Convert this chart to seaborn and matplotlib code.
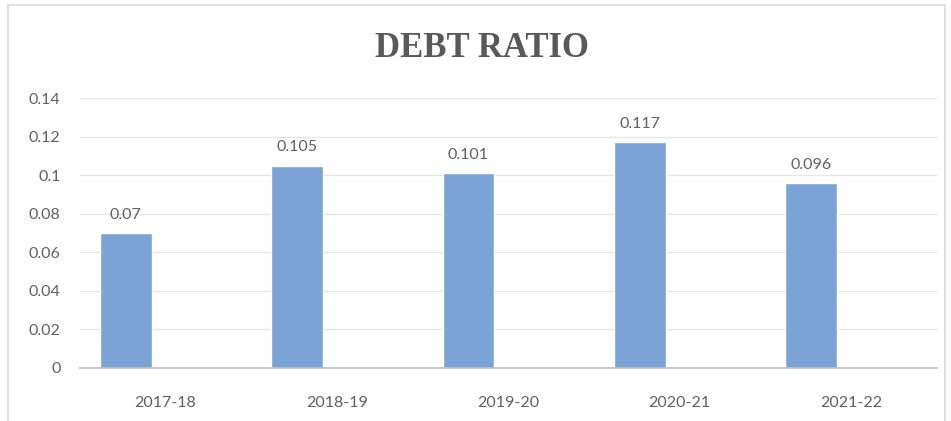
import matplotlib
matplotlib.use("Agg")
import matplotlib.pyplot as plt
import seaborn as sns
import pandas as pd
from matplotlib.patches import Rectangle

years = ["2017-18", "2018-19", "2019-20", "2020-21", "2021-22"]
debt_ratio = [0.07, 0.105, 0.101, 0.117, 0.096]
yticks = [0, 0.02, 0.04, 0.06, 0.08, 0.1, 0.12, 0.14]
ytick_labels = ["0", "0.02", "0.04", "0.06", "0.08", "0.1", "0.12", "0.14"]

df = pd.DataFrame({
    "Year": years * 2,
    "Value": debt_ratio + [float("nan")] * len(years),
    "Series": ["Debt Ratio"] * len(years) + ["_blank"] * len(years),
})

sns.set_style("white")
plt.rcParams["font.family"] = ["Lato", "DejaVu Sans"]

fig = plt.figure(figsize=(9.51, 4.21), dpi=100)
ax = fig.add_axes([0.084, 0.126, 0.901, 0.641])

sns.barplot(data=df, x="Year", y="Value", hue="Series", order=years,
            hue_order=["Debt Ratio", "_blank"],
            palette=["#7BA3D5", "#7BA3D5"], width=0.93, gap=0.35,
            saturation=1, legend=False, ax=ax, errorbar=None)

ax.set_ylim(0, 0.14)
ax.set_xlim(-0.5, len(years) - 0.5)
ax.set_yticks(yticks)
ax.set_yticklabels(ytick_labels)
ax.yaxis.grid(True, color="#E6E6E6", linewidth=1)
ax.set_axisbelow(True)
for s in ["top", "right", "left"]:
    ax.spines[s].set_visible(False)
ax.spines["bottom"].set_color("#BFBFBF")
ax.spines["bottom"].set_linewidth(1.2)
ax.tick_params(axis="both", length=0, labelsize=11.5, colors="#606060")
ax.tick_params(axis="x", pad=20)
ax.tick_params(axis="y", pad=14)
ax.set_xlabel("")
ax.set_ylabel("")

for c in ax.containers[:1]:
    ax.bar_label(c, labels=[f"{v:g}" for v in debt_ratio], padding=8,
                 fontsize=11.5, color="#606060")

fig.text(0.507, 0.885, "DEBT RATIO", ha="center", va="center",
         fontsize=25, fontweight="bold", color="#595959",
         family=["Liberation Serif", "DejaVu Serif"])

fig.patches.append(Rectangle((0.008, -0.01), 0.986, 0.997, transform=fig.transFigure,
                             fill=False, edgecolor="#D9D9D9", linewidth=1.2))

fig.savefig("out.png", dpi=100)
